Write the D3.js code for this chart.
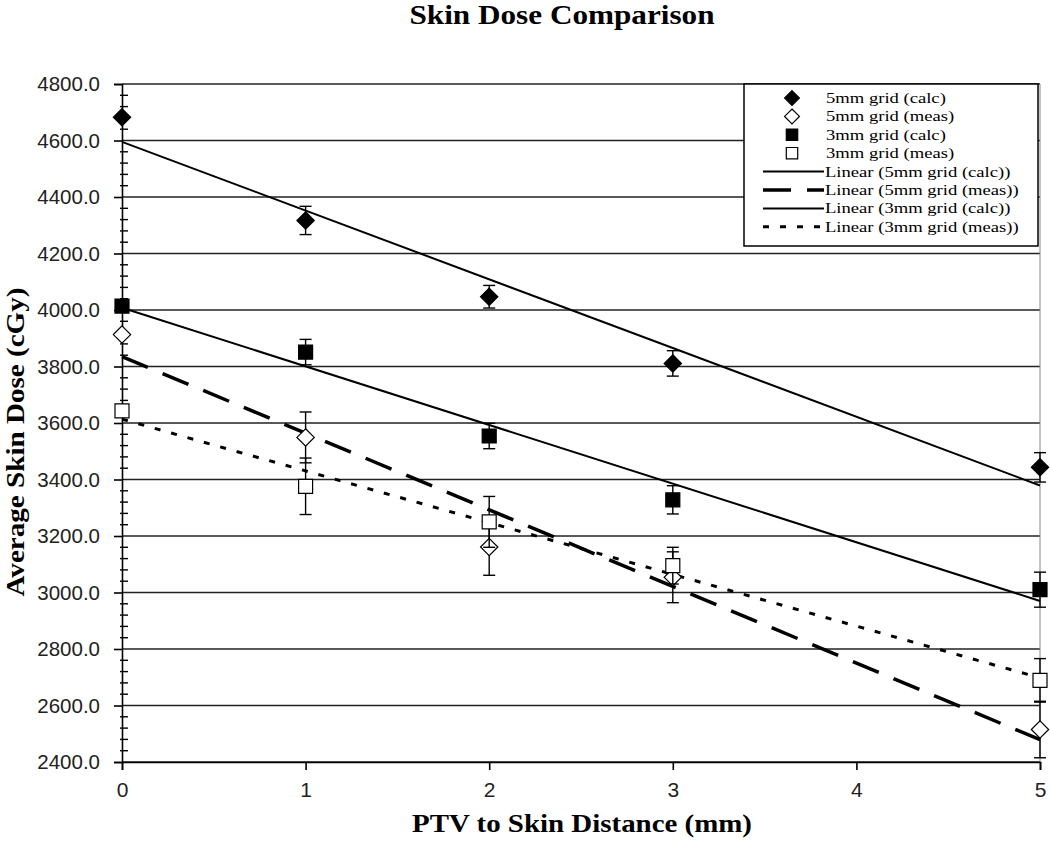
<!DOCTYPE html>
<html>
<head>
<meta charset="utf-8">
<script src="https://cdn.jsdelivr.net/npm/d3@7"></script>
<style>
  body { margin: 0; background: #fff; }
  svg { display: block; }
</style>
</head>
<body>
<div id="chart"></div>
<script>
// chart data
var distances = [0, 1, 2, 3, 5];
var calc5 = [4682, 4317, 4047, 3811, 3443];
var calc5Err = [0, 50, 40, 45, 52];
var meas5 = [3913, 3549, 3161, 3054, 2515];
var meas5Err = [0, 90, 100, 90, 100];
var calc3 = [4014, 3851, 3554, 3328, 3010];
var calc3Err = [0, 45, 45, 50, 62];
var meas3 = [3643, 3376, 3250, 3095, 2689];
var meas3Err = [0, 100, 90, 65, 77];
var yTicks = [2400, 2600, 2800, 3000, 3200, 3400, 3600, 3800, 4000, 4200, 4400, 4600, 4800];
var xTicks = [0, 1, 2, 3, 4, 5];

var svgWidth = 1050;
var svgHeight = 864;
var margin = { top: 84, left: 122, right: 10, bottom: 102 };
var plotRight = 1040;
var plotBottom = 762;

var svg = d3.select("#chart").append("svg")
  .attr("width", svgWidth)
  .attr("height", svgHeight);

var x = d3.scaleLinear().domain([0, 5]).range([margin.left, plotRight]);
var y = d3.scaleLinear().domain([2400, 4800]).range([plotBottom, margin.top]);

// diamond as a square turned 45 degrees (d3's own diamond is too tall)
var squareDiamond = {
  draw: function(context, size) {
    var r = Math.sqrt(size / 2);
    context.moveTo(0, -r);
    context.lineTo(r, 0);
    context.lineTo(0, r);
    context.lineTo(-r, 0);
    context.closePath();
  }
};

// gridlines
svg.append("g").selectAll("line")
  .data(yTicks)
  .enter().append("line")
  .attr("x1", margin.left).attr("x2", plotRight)
  .attr("y1", d => y(d)).attr("y2", d => y(d))
  .attr("stroke", "#222").attr("stroke-width", 1.6);

// right border
svg.append("line")
  .attr("x1", plotRight).attr("x2", plotRight)
  .attr("y1", margin.top).attr("y2", plotBottom)
  .attr("stroke", "#888").attr("stroke-width", 1);

// y axis
var yAxis = d3.axisLeft(y).tickValues(yTicks).tickFormat(d3.format(".1f")).tickSize(8).tickPadding(14);
var yG = svg.append("g").attr("transform", `translate(${margin.left},0)`).call(yAxis);
yG.select(".domain").attr("stroke", "#000").attr("stroke-width", 1.6);
yG.selectAll(".tick line").attr("stroke", "#000").attr("stroke-width", 1.6);
yG.selectAll("text").attr("font-family", "Liberation Sans, Arial, sans-serif").attr("font-size", 20.5).attr("fill", "#222");

// minor y ticks
var minor = d3.range(2400, 4801, 40).filter(v => v % 200 !== 0);
svg.append("g").selectAll("line")
  .data(minor)
  .enter().append("line")
  .attr("x1", margin.left - 2).attr("x2", margin.left + 6)
  .attr("y1", d => y(d)).attr("y2", d => y(d))
  .attr("stroke", "#000").attr("stroke-width", 1.4);

// x axis
var xAxis = d3.axisBottom(x).tickValues(xTicks).tickFormat(d3.format("d")).tickSize(8).tickPadding(12);
var xG = svg.append("g").attr("transform", `translate(0,${plotBottom})`).call(xAxis);
xG.select(".domain").attr("stroke", "#000").attr("stroke-width", 1.6);
xG.selectAll(".tick line").attr("stroke", "#000").attr("stroke-width", 1.6);
xG.selectAll("text").attr("font-family", "Liberation Sans Narrow, Liberation Sans, sans-serif").attr("font-size", 21).attr("fill", "#222");

// titles
var serif = "Liberation Serif, Times New Roman, serif";
svg.append("text").attr("x", 562).attr("y", 24).attr("text-anchor", "middle")
  .attr("font-family", serif).attr("font-weight", "bold").attr("font-size", 27)
  .attr("textLength", 305).attr("lengthAdjust", "spacingAndGlyphs")
  .text("Skin Dose Comparison");
svg.append("text").attr("x", 582).attr("y", 832).attr("text-anchor", "middle")
  .attr("font-family", serif).attr("font-weight", "bold").attr("font-size", 26)
  .attr("textLength", 340).attr("lengthAdjust", "spacingAndGlyphs")
  .text("PTV to Skin Distance (mm)");
svg.append("text").attr("transform", "translate(24,442) rotate(-90)").attr("text-anchor", "middle")
  .attr("font-family", serif).attr("font-weight", "bold").attr("font-size", 26)
  .attr("textLength", 309).attr("lengthAdjust", "spacingAndGlyphs")
  .text("Average Skin Dose (cGy)");

// series definitions
var series = [
  { name: "5mm grid (calc)", vals: calc5, err: calc5Err, shape: squareDiamond, fill: "#000", dash: null, width: 2 },
  { name: "5mm grid (meas)", vals: meas5, err: meas5Err, shape: squareDiamond, fill: "#fff", dash: "28,16", width: 3.5 },
  { name: "3mm grid (calc)", vals: calc3, err: calc3Err, shape: d3.symbolSquare, fill: "#000", dash: null, width: 2 },
  { name: "3mm grid (meas)", vals: meas3, err: meas3Err, shape: d3.symbolSquare, fill: "#fff", dash: "6,11", width: 3 }
];

// linear trend lines (least squares over the points)
function fit(xs, ys) {
  var mx = d3.mean(xs), my = d3.mean(ys);
  var sxy = d3.sum(xs, (v, i) => (v - mx) * (ys[i] - my));
  var sxx = d3.sum(xs, v => (v - mx) * (v - mx));
  var b = sxy / sxx;
  return { b: b, a: my - b * mx };
}

var line = d3.line().x(d => x(d[0])).y(d => y(d[1]));

series.forEach(function(s) {
  var f = fit(distances, s.vals);
  svg.append("path")
    .datum([[0, f.a], [5, f.a + 5 * f.b]])
    .attr("d", line)
    .attr("fill", "none")
    .attr("stroke", "#000")
    .attr("stroke-width", s.width)
    .attr("stroke-dasharray", s.dash);
});

// error bars and markers
series.forEach(function(s) {
  var pts = distances.map((d, i) => ({ x: d, v: s.vals[i], e: s.err[i] }));
  var eg = svg.append("g").selectAll("g").data(pts.filter(p => p.e > 0)).enter().append("g")
    .attr("stroke", "#000").attr("stroke-width", 1.4);
  eg.append("line").attr("x1", p => x(p.x)).attr("x2", p => x(p.x))
    .attr("y1", p => y(p.v + p.e)).attr("y2", p => y(p.v - p.e));
  eg.append("line").attr("x1", p => x(p.x) - 6).attr("x2", p => x(p.x) + 6)
    .attr("y1", p => y(p.v + p.e)).attr("y2", p => y(p.v + p.e));
  eg.append("line").attr("x1", p => x(p.x) - 6).attr("x2", p => x(p.x) + 6)
    .attr("y1", p => y(p.v - p.e)).attr("y2", p => y(p.v - p.e));

  svg.append("g").selectAll("path").data(pts).enter().append("path")
    .attr("d", d3.symbol().type(s.shape).size(s.shape === d3.symbolSquare ? 196 : 150))
    .attr("transform", p => `translate(${x(p.x)},${y(p.v)})`)
    .attr("fill", s.fill)
    .attr("stroke", "#000")
    .attr("stroke-width", 1.2);
});

// legend
var legend = svg.append("g");
legend.append("rect").attr("x", 744).attr("y", 84).attr("width", 294).attr("height", 162)
  .attr("fill", "#fff").attr("stroke", "#000").attr("stroke-width", 1.5);

var rowY = d3.range(8).map(i => 98 + i * 18.4);

// small font so rows do not collide, stretched to the reference width
function legendText(xPos, yPos, label) {
  var t = legend.append("text").attr("x", xPos).attr("y", yPos + 5)
    .attr("font-family", serif).attr("font-size", 15.5).text(label);
  var w = t.node().getComputedTextLength();
  t.attr("textLength", w * 1.2).attr("lengthAdjust", "spacingAndGlyphs");
}

series.forEach(function(s, i) {
  legend.append("path")
    .attr("d", d3.symbol().type(s.shape).size(s.shape === d3.symbolSquare ? 130 : 110))
    .attr("transform", `translate(792,${rowY[i]})`)
    .attr("fill", s.fill).attr("stroke", "#000").attr("stroke-width", 1.2);
  legendText(826, rowY[i], s.name);
});

series.forEach(function(s, i) {
  var ry = rowY[4 + i];
  legend.append("line").attr("x1", 763).attr("x2", 824).attr("y1", ry).attr("y2", ry)
    .attr("stroke", "#000").attr("stroke-width", s.width)
    .attr("stroke-dasharray", s.dash);
  legendText(825, ry, "Linear (" + s.name + ")");
});
</script>
</body>
</html>
